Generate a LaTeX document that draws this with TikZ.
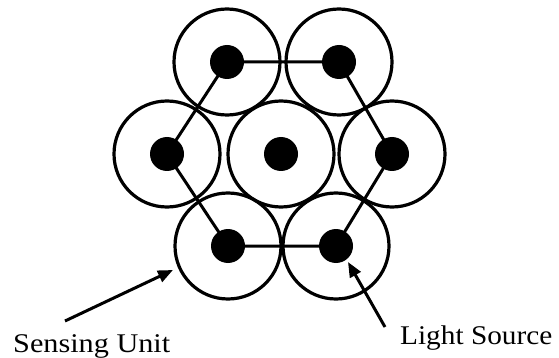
\documentclass[tikz,border=0pt]{standalone}
\usepackage{graphicx}
\usepackage{fontspec}
\setmainfont{Liberation Serif}
\usetikzlibrary{arrows.meta}
\tikzset{
  unit/.style={circle,draw=black,line width=3.2pt,minimum size=106pt,inner sep=0pt},
  dot/.style={circle,fill=black,minimum size=34pt,inner sep=0pt},
  link/.style={line width=3pt},
  pointer/.style={line width=3pt,-{Triangle[length=15pt,width=12pt]}},
  lbl/.style={inner sep=0pt,font=\fontsize{27}{30}\selectfont}
}
\begin{document}
\begin{tikzpicture}[x=1pt,y=1pt]
\useasboundingbox (0,0) rectangle (559,-358);
% circles
\node[unit] (c1) at (227,-62) {};
\node[unit] (c2) at (339,-62) {};
\node[unit] (c3) at (167,-154) {};
\node[unit] (c4) at (281,-154) {};
\node[unit] (c5) at (392,-154) {};
\node[unit] (c6) at (228,-246) {};
\node[unit] (c7) at (336,-246) {};
% connectors between dots
\coordinate (p1) at (c1.center);
\coordinate (p2) at (c2.center);
\coordinate (p3) at (c3.center);
\coordinate (p5) at (c5.center);
\coordinate (p6) at (c6.center);
\coordinate (p7) at (c7.center);
\draw[link] (p1) -- (p2) -- (p5) -- (p7) -- (p6) -- (p3) -- cycle;
% dots
\node[dot] (d1) at (c1.center) {};
\node[dot] (d2) at (c2.center) {};
\node[dot] (d3) at (c3.center) {};
\node[dot] (d4) at (c4.center) {};
\node[dot] (d5) at (c5.center) {};
\node[dot] (d6) at (c6.center) {};
\node[dot] (d7) at (c7.center) {};
% labels
\node[lbl,anchor=base west] (su) at (13,-352) {\scalebox{1.12}[1]{Sensing Unit}};
\node[lbl,anchor=base west] (ls) at (400,-344) {\scalebox{1.085}[1]{Light Source}};
% arrows
\coordinate (t1) at (65,-321);
\coordinate (h1) at (173,-270);
\coordinate (t2) at (385,-327);
\coordinate (h2) at (348,-262);
\draw[pointer] (t1) -- (h1);
\draw[pointer] (t2) -- (h2);
\end{tikzpicture}
\end{document}
